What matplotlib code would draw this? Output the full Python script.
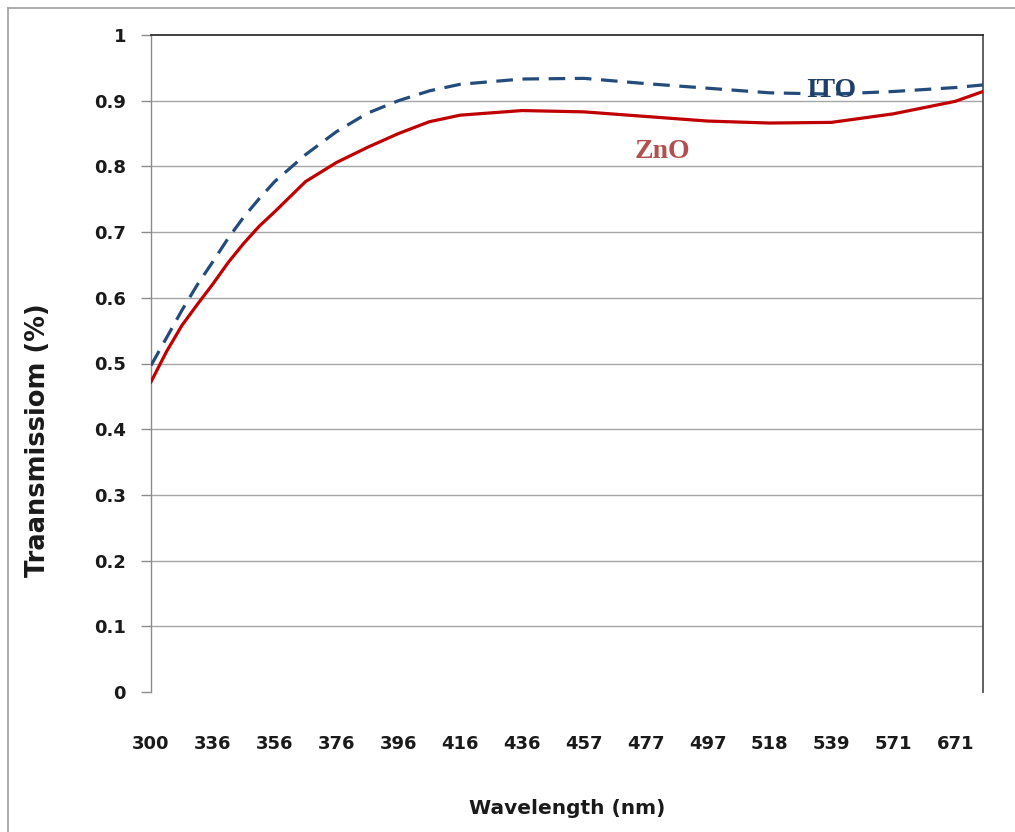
import matplotlib
matplotlib.use("Agg")
import matplotlib.pyplot as plt
from matplotlib.lines import Line2D

# ---- data ----
categories = ["300", "336", "356", "376", "396", "416", "436", "457",
              "477", "497", "518", "539", "571", "671"]
# positions of sampled points in category-index units
sample_pos = [0, 0.25, 0.5, 0.75, 1, 1.25, 1.5, 1.75, 2, 2.5, 3, 3.5, 4, 4.5,
              5, 6, 7, 8, 9, 10, 11, 12, 13, 13.45]
zno = [0.472, 0.518, 0.558, 0.590, 0.621, 0.654, 0.683, 0.709, 0.731, 0.777,
       0.806, 0.829, 0.850, 0.868, 0.878, 0.885, 0.883, 0.876, 0.869, 0.866,
       0.867, 0.880, 0.899, 0.914]
ito = [0.497, 0.539, 0.581, 0.620, 0.655, 0.691, 0.723, 0.751, 0.777, 0.818,
       0.853, 0.881, 0.900, 0.915, 0.925, 0.933, 0.934, 0.926, 0.919, 0.912,
       0.910, 0.914, 0.920, 0.924]
y_ticks = [0, 0.1, 0.2, 0.3, 0.4, 0.5, 0.6, 0.7, 0.8, 0.9, 1]
y_tick_labels = ["0", "0.1", "0.2", "0.3", "0.4", "0.5", "0.6", "0.7", "0.8", "0.9", "1"]

W, H = 1015, 832
FONT = "DejaVu Sans"
fig = plt.figure(figsize=(W / 100, H / 100), dpi=100)
ax = fig.add_axes([151 / W, 1 - 692 / H, 832 / W, 657 / H])

ax.set_xlim(0, 13.45)
ax.set_ylim(0, 1)

ax.plot(sample_pos, ito, color="#234b7c", lw=2.3, dashes=(5.2, 3.0),
        dash_capstyle="butt", dash_joinstyle="round", zorder=3)
ax.plot(sample_pos, zno, color="#c00000", lw=2.3, solid_joinstyle="round", zorder=3)

# grid
for v in y_ticks[1:-1]:
    ax.axhline(v, color="#a6a6a6", lw=1.0, zorder=1)

ax.spines["bottom"].set_visible(False)
ax.spines["left"].set_color("#8c8c8c")
ax.spines["left"].set_linewidth(1.0)
ax.spines["top"].set_color("#202020")
ax.spines["top"].set_linewidth(1.2)
ax.spines["right"].set_color("#555555")
ax.spines["right"].set_linewidth(1.3)

ax.set_yticks(y_ticks)
ax.set_yticklabels(y_tick_labels, fontfamily=FONT, fontweight="bold",
                   fontsize=13, color="#1a1a1a")
ax.tick_params(axis="y", length=7, width=1.0, color="#8c8c8c", pad=11)

ax.set_xticks(range(len(categories)))
ax.set_xticklabels(categories, fontfamily=FONT, fontweight="bold",
                   fontsize=13, color="#1a1a1a")
ax.tick_params(axis="x", length=0, pad=31)

# series labels
ax.text(11.0, 0.916, "ITO", fontfamily="Liberation Serif", fontweight="bold",
        fontsize=20, color="#1f3f6b", ha="center", va="center", zorder=4)
ax.text(8.27, 0.822, "ZnO", fontfamily="Liberation Serif", fontweight="bold",
        fontsize=20, color="#b2504e", ha="center", va="center", zorder=4)

# axis titles
fig.text(38 / W, 1 - 440 / H, "Traansmissiom (%)", rotation=90,
         fontfamily=FONT, fontweight="bold", fontsize=18.5, color="#1a1a1a",
         ha="center", va="center")
fig.text(567 / W, 1 - 808 / H, "Wavelength (nm)",
         fontfamily=FONT, fontweight="bold", fontsize=14.5, color="#1a1a1a",
         ha="center", va="center")

# outer frame (left and top edges visible)
fig.add_artist(Line2D([8 / W, 8 / W], [0, 1 - 8 / H], transform=fig.transFigure,
                      color="#a0a0a0", lw=1.2))
fig.add_artist(Line2D([8 / W, 1], [1 - 8 / H, 1 - 8 / H], transform=fig.transFigure,
                      color="#a0a0a0", lw=1.2))

fig.savefig("out.png", dpi=100)
